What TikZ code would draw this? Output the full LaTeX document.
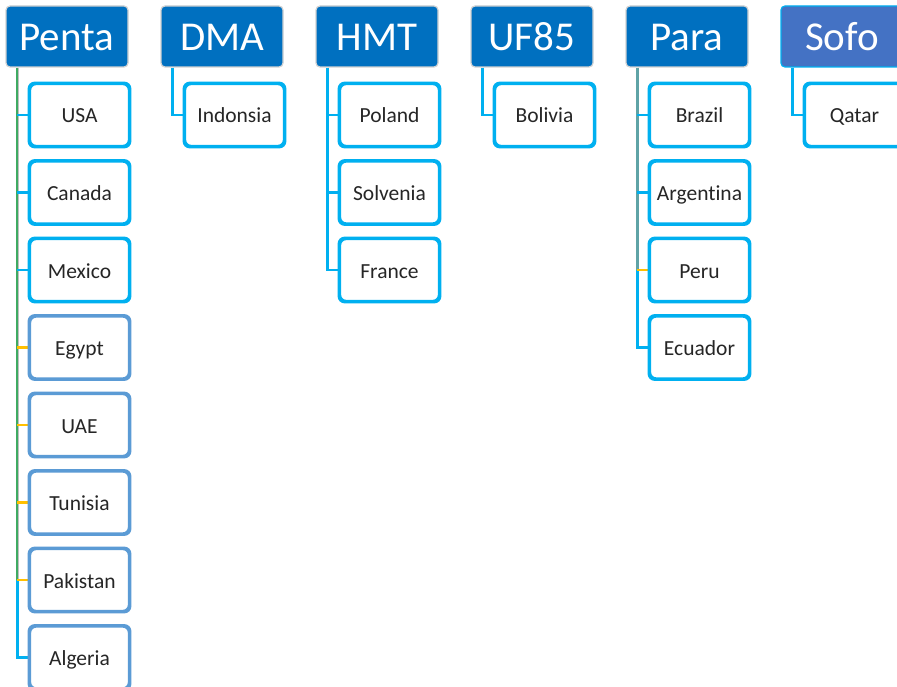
\documentclass[tikz,border=0pt]{standalone}
\usepackage{fontspec}
\setmainfont[Ligatures={NoCommon}]{Carlito}
\definecolor{hdr}{HTML}{0070C0}
\definecolor{sofoc}{HTML}{4472C4}
\definecolor{cy}{HTML}{00B0F0}
\definecolor{bl}{HTML}{5B9BD5}
\definecolor{yl}{HTML}{FFC000}
\definecolor{grn}{HTML}{3FAA62}
\definecolor{tealg}{HTML}{5FA3A6}
\definecolor{txt}{HTML}{262626}
\begin{document}
\begin{tikzpicture}[x=1pt,y=-1pt,
  hdrbox/.style={rectangle, rounded corners=4pt, fill=hdr, draw=gray!35, line width=1.2pt,
    minimum width=122pt, minimum height=61pt, text=white, inner sep=0pt,
    font=\fontsize{41}{41}\selectfont, text height=31pt, text depth=3.6pt},
  kid/.style={rectangle, rounded corners=6pt, fill=white, draw=cy, line width=2.4pt,
    minimum width=99pt, minimum height=62pt, text=txt, inner sep=0pt,
    font=\fontsize{21.5}{21.5}\selectfont, text height=18pt, text depth=2pt},
  kidb/.style={kid, draw=bl},
  cline/.style={draw=cy, line width=2.6pt},
  yline/.style={draw=yl, line width=2.6pt},
  gline/.style={draw=gray!50, line width=3.8pt},
  mline/.style={draw=grn, line width=2pt},
  tline/.style={draw=tealg, line width=2.8pt}
]
\path[use as bounding box] (0,0) rectangle (897,687);
\clip (0,0) rectangle (897,687);
\fill[white] (0,0) rectangle (897,687);

% headers
\node[hdrbox] (penta) at (67,36.5) {Penta};
\node[hdrbox] (dma) at (222,36.5) {DMA};
\node[hdrbox] (hmt) at (377,36.5) {HMT};
\node[hdrbox] (uf) at (532,36.5) {UF85};
\node[hdrbox] (para) at (687,36.5) {Para};
\node[hdrbox, fill=sofoc, draw=cy] (sofo) at (842,36.5) {Sofo};

\foreach \h in {penta,dma,hmt,uf,para,sofo}{
  \coordinate (\h T) at ([xshift=12pt]\h.south west);
}

% children
\node[kid] (usa) at (79.5,115) {USA};
\node[kid] (canada) at (79.5,192.5) {Canada};
\node[kid] (mexico) at (79.5,270) {Mexico};
\node[kidb] (egypt) at (79.5,347.5) {Egypt};
\node[kidb] (uae) at (79.5,425) {UAE};
\node[kidb] (tunisia) at (79.5,502.5) {Tunisia};
\node[kidb] (pakistan) at (79.5,580) {Pakistan};
\node[kidb] (algeria) at (79.5,657.5) {Algeria};

\node[kid] (indonsia) at (234.5,115) {Indonsia};

\node[kid] (poland) at (389.5,115) {Poland};
\node[kid] (solvenia) at (389.5,192.5) {Solvenia};
\node[kid] (france) at (389.5,270) {France};

\node[kid] (bolivia) at (544.5,115) {Bolivia};

\node[kid] (brazil) at (699.5,115) {Brazil};
\node[kid] (argentina) at (699.5,192.5) {Argentina};
\node[kid] (peru) at (699.5,270) {Peru};
\node[kid] (ecuador) at (699.5,347.5) {Ecuador};

\node[kid] (qatar) at (854.5,115) {Qatar};

% connectors: Penta
\draw[cline] (pentaT |- pakistan.west) |- (algeria.west);
\draw[gline] (pentaT) -- (pentaT |- pakistan.west);
\draw[mline] (pentaT) -- (pentaT |- pakistan.west);
\draw[cline] (pentaT |- usa.west) -- (usa.west);
\draw[cline] (pentaT |- canada.west) -- (canada.west);
\draw[cline] (pentaT |- mexico.west) -- (mexico.west);
\draw[yline] (pentaT |- egypt.west) -- (egypt.west);
\draw[yline] (pentaT |- uae.west) -- (uae.west);
\draw[yline] (pentaT |- tunisia.west) -- (tunisia.west);
\draw[yline] (pentaT |- pakistan.west) -- (pakistan.west);

% DMA
\draw[cline] (dmaT) |- (indonsia.west);
% HMT
\draw[cline] (hmtT) |- (france.west);
\draw[cline] (hmtT |- poland.west) -- (poland.west);
\draw[cline] (hmtT |- solvenia.west) -- (solvenia.west);
% UF85
\draw[cline] (ufT) |- (bolivia.west);
% Para
\draw[cline] (paraT |- peru.west) |- (ecuador.west);
\draw[tline] (paraT) -- (paraT |- peru.west);
\draw[cline] (paraT |- brazil.west) -- (brazil.west);
\draw[cline] (paraT |- argentina.west) -- (argentina.west);
\draw[yline] (paraT |- peru.west) -- (peru.west);
% Sofo
\draw[cline] (sofoT) |- (qatar.west);

% redraw box outlines on top of connector ends
\foreach \n in {usa,canada,mexico,indonsia,poland,solvenia,france,bolivia,brazil,argentina,peru,ecuador,qatar}{
  \draw[cy, line width=2.4pt, rounded corners=6pt] (\n.north west) rectangle (\n.south east);
}
\foreach \n in {egypt,uae,tunisia,pakistan,algeria}{
  \draw[bl, line width=2.4pt, rounded corners=6pt] (\n.north west) rectangle (\n.south east);
}
\end{tikzpicture}
\end{document}
